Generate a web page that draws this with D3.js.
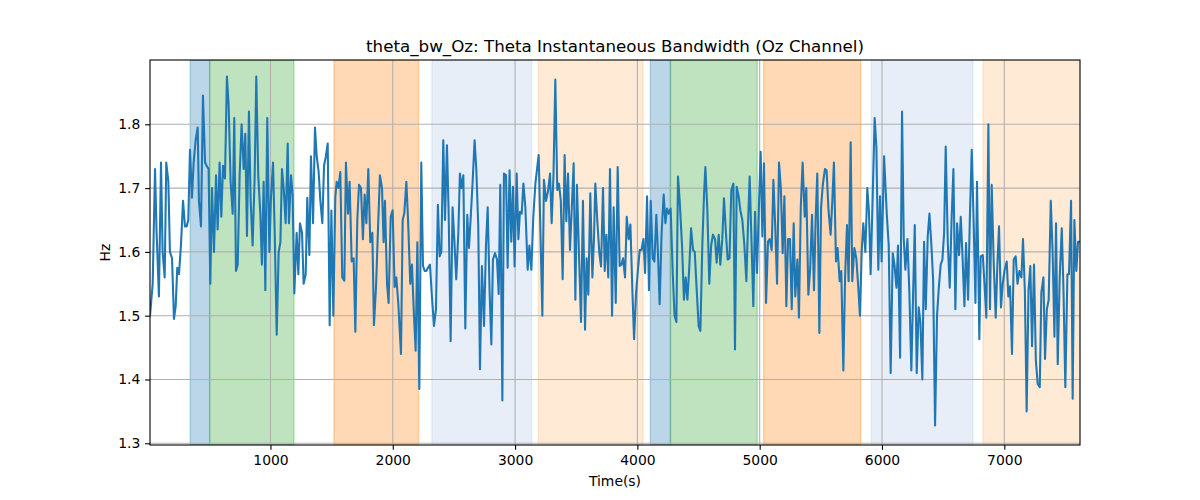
<!DOCTYPE html>
<html>
<head>
<meta charset="utf-8">
<script src="https://cdn.jsdelivr.net/npm/d3@7"></script>
<style>
  body { margin: 0; background: #fff; }
  text { font-family: "DejaVu Sans", sans-serif; fill: #000; }
</style>
</head>
<body>
<svg id="chart" width="1200" height="500"></svg>
<script>
const times = [15,37,56,69,88,105,118,135,148,165,178,195,211,225,238,252,268,285,301,315,328,342,358,372,388,405,415,432,448,465,478,494,508,522,538,555,568,584,598,612,628,644,658,674,691,704,718,732,748,764,781,794,808,824,838,854,871,884,900,917,930,944,958,974,991,1004,1021,1034,1051,1067,1081,1094,1108,1124,1141,1151,1168,1181,1195,1214,1228,1241,1258,1271,1288,1301,1318,1331,1348,1364,1378,1394,1408,1424,1438,1453,1468,1484,1498,1514,1530,1541,1555,1571,1587,1604,1617,1634,1647,1664,1680,1694,1710,1724,1740,1756,1770,1784,1800,1816,1833,1846,1863,1879,1895,1912,1925,1936,1953,1966,1983,1999,2015,2029,2045,
2067,2081,2094,2111,2124,2143,2157,2171,2187,2201,2217,2233,2247,2261,2274,2288,2304,2320,2337,2353,2369,2383,2397,2413,2427,2443,2457,2473,2489,2503,2519,2536,2549,2563,2577,2593,2609,2623,2639,2653,2669,2683,2699,2713,2729,2746,2762,2776,2792,2806,2819,2836,2852,2866,2879,2896,2909,2926,2939,2955,2969,2983,2996,3013,3027,3040,3054,3068,3084,3103,3117,3133,3149,3166,3193,3223,3236,3253,3269,3286,3299,3314,3329,3345,3359,3374,3389,3405,3419,3433,3449,3464,3479,3493,3506,3522,3539,3555,3572,3585,3599,3615,3632,3645,3656,3672,3689,3703,3719,3733,3746,3762,3776,3793,3806,3823,3839,3855,3869,3883,3899,3913,3929,3943,3959,3973,3989,4004,4019,4034,4049,4063,4079,4095,4109,4125,4139,4155,4168,4182,4198,4215,4229,4242,4256,4272,4289,4304,4319,4332,4346,4365,4381,4395,4409,4425,4439,4455,4469,4485,4501,4515,4531,4545,4556,4572,4588,4603,4618,4635,4648,4665,4678,4694,4708,4724,4738,4753,4768,4785,4798,4812,4828,4842,4858,4875,4891,4904,4918,4934,4948,4962,4978,4992,5008,5022,5035,5052,5068,5082,5098,5112,5127,5142,5158,5173,5188,5202,5218,5232,5248,5262,5278,5291,5308,5321,5336,5351,5368,5381,5398,5413,5428,5444,5458,5471,5488,5502,5517,5534,5547,5563,5580,5594,5607,5624,5637,5654,5667,5684,5698,5714,5727,5744,5757,5774,5790,5806,5820,5834,5847,5864,5880,5893,5907,5924,5940,5954,5970,5984,5997,6017,6039,6055,6071,6088,6102,6118,6131,6148,6164,6178,6191,6208,6224,6240,6254,6268,6284,6300,6314,6330,6344,6358,6374,6388,6404,6418,6434,6450,6465,6480,6494,6508,6521,6538,6554,6569,6584,6600,6614,6630,6644,6659,6674,6687,6704,6718,6734,6749,6764,6777,6796,6807,6824,6838,6853,6870,6883,6897,6914,6930,6943,6957,6973,6987,7003,7020,7033,7047,7063,7077,7093,7108,7123,7140,7153,7168,7183,7198,7213,7227,7243,7258,7273,7290,7303,7320,7333,7348,7363,7380,7395,7410,7423,7437,7453,7470,7484,7499,7516,7529,7546,7559,7573,7589,7603,7619];

const bandwidth = [1.50,1.55,1.73,1.63,1.53,1.74,1.60,1.56,1.74,1.71,1.60,1.59,1.495,1.515,1.575,1.565,1.61,1.68,1.64,1.64,1.65,1.76,1.685,1.74,1.775,1.795,1.68,1.64,1.845,1.74,1.735,1.73,1.55,1.70,1.60,1.72,1.635,1.74,1.655,1.735,1.715,1.875,1.83,1.71,1.66,1.81,1.57,1.58,1.72,1.80,1.73,1.785,1.625,1.82,1.68,1.61,1.72,1.875,1.72,1.66,1.58,1.71,1.54,1.81,1.60,1.685,1.74,1.635,1.47,1.60,1.615,1.73,1.70,1.645,1.77,1.645,1.72,1.69,1.535,1.63,1.565,1.645,1.63,1.55,1.565,1.685,1.595,1.75,1.645,1.795,1.75,1.725,1.68,1.645,1.735,1.75,1.77,1.485,1.665,1.50,1.685,1.71,1.70,1.725,1.56,1.555,1.74,1.66,1.71,1.585,1.59,1.475,1.65,1.705,1.70,1.62,1.69,1.645,1.73,1.615,1.63,1.485,1.545,1.635,1.72,1.70,1.615,1.68,1.55,1.52,1.655,1.665,1.545,1.56,1.52,
1.44,1.65,1.66,1.71,1.655,1.55,1.58,1.51,1.445,1.615,1.385,1.74,1.578,1.57,1.57,1.575,1.58,1.53,1.484,1.51,1.674,1.593,1.60,1.775,1.65,1.767,1.66,1.46,1.67,1.62,1.557,1.63,1.723,1.70,1.72,1.48,1.658,1.606,1.66,1.71,1.775,1.73,1.64,1.416,1.578,1.484,1.61,1.67,1.536,1.455,1.588,1.598,1.588,1.534,1.705,1.367,1.723,1.72,1.575,1.728,1.616,1.702,1.577,1.723,1.62,1.663,1.66,1.707,1.67,1.572,1.61,1.572,1.655,1.707,1.752,1.50,1.713,1.68,1.695,1.723,1.645,1.72,1.87,1.697,1.707,1.68,1.557,1.752,1.648,1.723,1.603,1.67,1.739,1.525,1.705,1.60,1.49,1.68,1.478,1.59,1.533,1.692,1.56,1.62,1.707,1.65,1.598,1.577,1.70,1.57,1.627,1.56,1.73,1.50,1.67,1.52,1.733,1.578,1.58,1.59,1.56,1.655,1.62,1.643,1.54,1.463,1.535,1.57,1.603,1.603,1.62,1.567,1.687,1.54,1.68,1.59,1.585,1.658,1.60,1.518,1.63,1.69,1.645,1.668,1.66,1.668,1.567,1.50,1.49,1.718,1.68,1.61,1.525,1.56,1.525,1.578,1.637,1.603,1.60,1.54,1.484,1.476,1.61,1.69,1.733,1.666,1.55,1.61,1.627,1.62,1.583,1.627,1.58,1.62,1.684,1.63,1.588,1.59,1.697,1.707,1.447,1.702,1.687,1.665,1.65,1.61,1.554,1.64,1.718,1.61,1.515,1.663,1.567,1.66,1.757,1.624,1.739,1.52,1.616,1.62,1.603,1.713,1.64,1.55,1.74,1.70,1.598,1.687,1.515,1.62,1.62,1.51,1.645,1.53,1.588,1.497,1.67,1.74,1.655,1.70,1.533,1.575,1.658,1.54,1.655,1.723,1.473,1.67,1.707,1.73,1.728,1.665,1.627,1.68,1.74,1.585,1.606,1.554,1.57,1.414,1.56,1.642,1.554,1.772,1.554,1.606,1.59,1.545,1.50,1.60,1.645,1.60,1.70,1.665,1.565,1.687,1.81,1.765,1.572,1.687,1.585,1.75,1.66,1.61,1.41,1.598,1.58,1.544,1.61,1.434,1.82,1.62,1.572,1.62,1.535,1.414,1.53,1.642,1.41,1.513,1.49,1.40,1.616,1.51,1.624,1.66,1.61,1.557,1.328,1.50,1.545,1.58,1.588,1.63,1.765,1.614,1.544,1.65,1.73,1.51,1.645,1.595,1.655,1.59,1.515,1.614,1.525,1.65,1.76,1.65,1.52,1.71,1.463,1.593,1.595,1.55,1.497,1.80,1.51,1.705,1.58,1.497,1.578,1.64,1.513,1.55,1.572,1.585,1.53,1.546,1.44,1.588,1.593,1.55,1.57,1.56,1.62,1.54,1.35,1.54,1.578,1.452,1.58,1.43,1.393,1.388,1.536,1.56,1.432,1.51,1.525,1.68,1.60,1.467,1.645,1.424,1.56,1.637,1.54,1.388,1.565,1.565,1.68,1.37,1.65,1.57,1.616,1.616];

const spanStarts = [344, 503, 1519, 2320, 3190, 4106, 4270, 5032, 5913, 6826];
const spanEnds   = [503, 1192, 2211, 3135, 4046, 4270, 4980, 5826, 6744, 7640];
const spanColors = ["#1f77b4", "#2ca02c", "#ff7f0e", "#aec7e8", "#ffbb78", "#1f77b4", "#2ca02c", "#ff7f0e", "#aec7e8", "#ffbb78"];

const xTicks = [1000, 2000, 3000, 4000, 5000, 6000, 7000];
const yTicks = [1.3, 1.4, 1.5, 1.6, 1.7, 1.8];

const titleText = "theta_bw_Oz: Theta Instantaneous Bandwidth (Oz Channel)";
const xLabel = "Time(s)";
const yLabel = "Hz";

const margin = {left: 150, top: 60, right: 120, bottom: 55};
const W = 1200, H = 500;
const iw = W - margin.left - margin.right;
const ih = H - margin.top - margin.bottom;

const svg = d3.select("#chart");
const g = svg.append("g").attr("transform", `translate(${margin.left},${margin.top})`);

const x = d3.scaleLinear().domain([15, 7619]).range([0, iw]);
const y = d3.scaleLinear().domain([1.2973, 1.9008]).range([ih, 0]);

g.append("defs").append("clipPath").attr("id", "clip")
  .append("rect").attr("width", iw).attr("height", ih);

const spans = spanStarts.map((s, i) => ({s, e: spanEnds[i], c: spanColors[i]}));
g.append("g").attr("clip-path", "url(#clip)").selectAll("rect").data(spans).join("rect")
  .attr("x", d => x(d.s)).attr("width", d => x(d.e) - x(d.s))
  .attr("y", 0).attr("height", ih)
  .attr("fill", d => d.c).attr("fill-opacity", 0.3)
  .attr("stroke", d => d.c).attr("stroke-opacity", 0.3).attr("stroke-width", 1.4);

// grid
g.append("g").selectAll("line").data(xTicks).join("line")
  .attr("x1", d => x(d)).attr("x2", d => x(d)).attr("y1", 0).attr("y2", ih)
  .attr("stroke", "#b0b0b0").attr("stroke-width", 1.1);
g.append("g").selectAll("line").data(yTicks).join("line")
  .attr("y1", d => y(d)).attr("y2", d => y(d)).attr("x1", 0).attr("x2", iw)
  .attr("stroke", "#b0b0b0").attr("stroke-width", 1.1);

const pts = times.map((t, i) => [t, bandwidth[i]]);
g.append("path").datum(pts)
  .attr("clip-path", "url(#clip)")
  .attr("fill", "none").attr("stroke", "#1f77b4").attr("stroke-width", 2.08)
  .attr("stroke-linejoin", "round").attr("stroke-linecap", "square")
  .attr("d", d3.line().x(d => x(d[0])).y(d => y(d[1])));

// axes
const xAxis = g.append("g").attr("transform", `translate(0,${ih})`)
  .call(d3.axisBottom(x).tickValues(xTicks).tickFormat(d3.format("d")).tickSizeOuter(0).tickSize(4.86).tickPadding(4.86));
const yAxis = g.append("g")
  .call(d3.axisLeft(y).tickValues(yTicks).tickFormat(d3.format(".1f")).tickSizeOuter(0).tickSize(4.86).tickPadding(4.86));
[xAxis, yAxis].forEach(a => {
  a.select(".domain").remove();
  a.selectAll(".tick line").attr("stroke", "#000").attr("stroke-width", 1.1);
  a.selectAll(".tick text").attr("font-size", "13.9px").attr("font-family", "DejaVu Sans").attr("fill", "#000");
});

g.append("rect").attr("width", iw).attr("height", ih)
  .attr("fill", "none").attr("stroke", "#000").attr("stroke-width", 1.1);

svg.append("text").attr("x", margin.left + iw / 2).attr("y", 52)
  .attr("text-anchor", "middle").attr("font-size", "16.7px").text(titleText);
svg.append("text").attr("x", margin.left + iw / 2).attr("y", 486)
  .attr("text-anchor", "middle").attr("font-size", "13.9px").text(xLabel);
svg.append("text").attr("transform", `translate(110,${margin.top + ih / 2}) rotate(-90)`)
  .attr("text-anchor", "middle").attr("font-size", "13.9px").text(yLabel);
</script>
</body>
</html>
